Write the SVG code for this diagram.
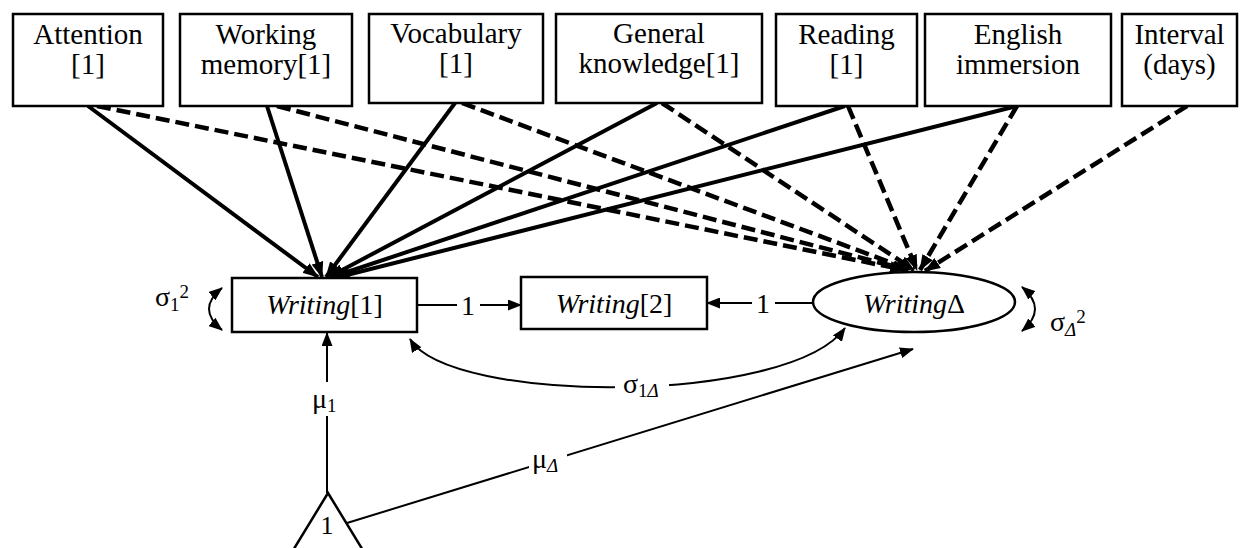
<svg xmlns="http://www.w3.org/2000/svg" width="1241" height="548" viewBox="0 0 1241 548" font-family="'Liberation Serif', 'Times New Roman', Times, 'DejaVu Serif', serif">
<style>
  text { font-family: 'Liberation Serif', 'Times New Roman', Times, 'DejaVu Serif', serif; fill: #000; }
  .box { fill: #fff; stroke: #000; stroke-width: 2.5; }
  .t29 { font-size: 29px; text-anchor: middle; }
  .t28 { font-size: 28px; text-anchor: middle; }
  .solid { stroke: #000; stroke-width: 4; fill: none; marker-end: url(#big); }
  .dash { stroke: #000; stroke-width: 4.5; fill: none; stroke-dasharray: 14 6; marker-end: url(#big); }
  .thin { stroke: #000; stroke-width: 2; fill: none; }
  .it { font-style: italic; }
</style>
<defs>
  <marker id="big" viewBox="0 0 16 12" refX="15" refY="6" markerWidth="16" markerHeight="12" markerUnits="userSpaceOnUse" orient="auto">
    <path d="M0,0 L16,6 L0,12 z" fill="#000"/>
  </marker>
  <marker id="sm" viewBox="0 0 14 11" refX="13" refY="5.5" markerWidth="14" markerHeight="11" markerUnits="userSpaceOnUse" orient="auto-start-reverse">
    <path d="M0,0 L14,5.5 L0,11 z" fill="#000"/>
  </marker>
  <mask id="gaps" maskUnits="userSpaceOnUse" x="0" y="0" width="1241" height="548">
    <rect x="0" y="0" width="1241" height="548" fill="#fff"/>
    <rect x="457" y="292" width="23" height="26" fill="#000"/>
    <rect x="752" y="290" width="23" height="26" fill="#000"/>
    <rect x="615" y="372" width="54" height="30" fill="#000"/>
    <rect x="310" y="382" width="34" height="34" fill="#000"/>
    <rect x="529" y="448" width="38" height="28" fill="#000"/>
  </mask>
</defs>

<g id="connectors">
  <line class="solid" x1="88" y1="106" x2="318" y2="277"/>
  <line class="solid" x1="267" y1="106" x2="322" y2="277"/>
  <line class="solid" x1="455" y1="103" x2="326" y2="277"/>
  <line class="solid" x1="657" y1="103" x2="329" y2="277"/>
  <line class="solid" x1="845" y1="106" x2="332" y2="277"/>
  <line class="solid" x1="1017" y1="106" x2="335" y2="278"/>
  <line class="dash" x1="97" y1="106" x2="905" y2="270"/>
  <line class="dash" x1="277" y1="106" x2="908" y2="270"/>
  <line class="dash" x1="462" y1="103" x2="911" y2="270"/>
  <line class="dash" x1="662" y1="103" x2="914" y2="270"/>
  <line class="dash" x1="848" y1="106" x2="917" y2="270"/>
  <line class="dash" x1="1017" y1="106" x2="920" y2="270"/>
  <line class="dash" x1="1187" y1="106" x2="925" y2="271"/>
  <g mask="url(#gaps)">
    <line class="thin" x1="417" y1="305" x2="521" y2="305" marker-end="url(#sm)"/>
    <line class="thin" x1="813" y1="303" x2="707" y2="303" marker-end="url(#sm)"/>
    <path class="thin" d="M410,339 C450,405 790,405 845,328" marker-start="url(#sm)" marker-end="url(#sm)"/>
    <line class="thin" x1="327" y1="493" x2="327" y2="333" marker-end="url(#sm)"/>
    <line class="thin" x1="347" y1="523" x2="913" y2="349" marker-end="url(#sm)"/>
  </g>
  <path class="thin" d="M222,288 Q196,309 222,330" marker-start="url(#sm)" marker-end="url(#sm)"/>
  <path class="thin" d="M1022,287 Q1048,309 1022,331" marker-start="url(#sm)" marker-end="url(#sm)"/>
  <text class="t28" x="468" y="315">1</text>
  <text class="t28" x="763" y="313">1</text>
  <text x="623" y="393" font-size="28">σ<tspan dy="4" font-size="19">1</tspan><tspan font-size="19" class="it">Δ</tspan></text>
  <text x="312" y="408" font-size="28">μ<tspan dy="4" font-size="19">1</tspan></text>
  <text x="532" y="468" font-size="28">μ<tspan dy="4" font-size="19" class="it">Δ</tspan></text>
  <text x="155" y="306" font-size="28">σ<tspan dy="5" font-size="19">1</tspan><tspan dy="-13" font-size="19">2</tspan></text>
  <text x="1050" y="331" font-size="28">σ<tspan dy="5" font-size="19" class="it">Δ</tspan><tspan dy="-13" font-size="19">2</tspan></text>
</g>

<g id="attention">
  <rect class="box" x="13" y="14" width="150" height="92"/>
  <text class="t29" x="88" y="44">Attention</text>
  <text class="t29" x="88" y="74">[1]</text>
</g>
<g id="working-memory">
  <rect class="box" x="180" y="14" width="172" height="92"/>
  <text class="t29" x="266" y="44">Working</text>
  <text class="t29" x="266" y="74">memory[1]</text>
</g>
<g id="vocabulary">
  <rect class="box" x="369" y="14" width="174" height="89"/>
  <text class="t29" x="456" y="43">Vocabulary</text>
  <text class="t29" x="456" y="73">[1]</text>
</g>
<g id="general-knowledge">
  <rect class="box" x="556" y="14" width="206" height="89"/>
  <text class="t29" x="659" y="43">General</text>
  <text class="t29" x="659" y="73">knowledge[1]</text>
</g>
<g id="reading">
  <rect class="box" x="776" y="14" width="141" height="92"/>
  <text class="t29" x="846.5" y="44">Reading</text>
  <text class="t29" x="846.5" y="74">[1]</text>
</g>
<g id="english-immersion">
  <rect class="box" x="925" y="14" width="186" height="92"/>
  <text class="t29" x="1018" y="44">English</text>
  <text class="t29" x="1018" y="74">immersion</text>
</g>
<g id="interval">
  <rect class="box" x="1122" y="14" width="115" height="92"/>
  <text class="t29" x="1179.5" y="44">Interval</text>
  <text class="t29" x="1179.5" y="74">(days)</text>
</g>

<g id="writing1">
  <rect class="box" x="232" y="278" width="185" height="54"/>
  <text class="t28" x="324.5" y="314"><tspan class="it">Writing</tspan>[1]</text>
</g>
<g id="writing2">
  <rect class="box" x="521" y="277" width="186" height="52"/>
  <text class="t28" x="614" y="313"><tspan class="it">Writing</tspan>[2]</text>
</g>
<g id="writing-delta">
  <ellipse class="box" cx="914" cy="302" rx="101" ry="30"/>
  <text class="t28" x="914" y="313"><tspan class="it">Writing</tspan>Δ</text>
</g>
<g id="constant">
  <polygon class="box" points="328,493 292,552 364,552"/>
  <text x="327" y="534" font-size="26" text-anchor="middle">1</text>
</g>
</svg>
